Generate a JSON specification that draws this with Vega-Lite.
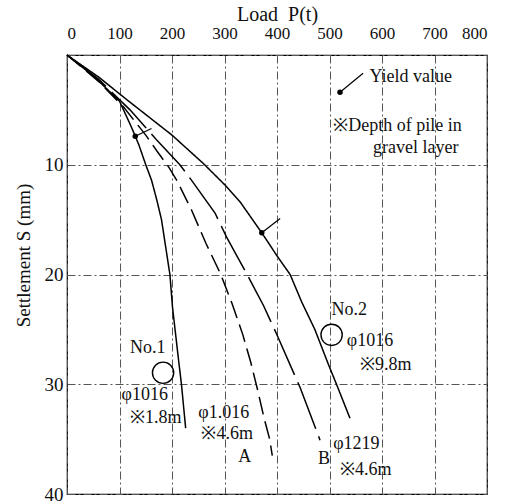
{
  "$schema": "https://vega.github.io/schema/vega-lite/v6.json",
  "width": 420,
  "height": 439,
  "autosize": {"type": "none"},
  "padding": {"left": 67, "top": 55, "right": 27, "bottom": 9},
  "background": "white",
  "config": {
    "view": {"stroke": "black", "strokeWidth": 1.2},
    "font": "Liberation Serif"
  },
  "datasets": {
    "curves": [
      {"curve": "No1", "P": 0, "S": 0}, {"curve": "No1", "P": 50, "S": 1.9}, {"curve": "No1", "P": 100, "S": 4.2}, {"curve": "No1", "P": 123, "S": 6.6}, {"curve": "No1", "P": 130, "S": 7.4}, {"curve": "No1", "P": 137, "S": 8.2}, {"curve": "No1", "P": 150, "S": 10}, {"curve": "No1", "P": 161, "S": 11.4}, {"curve": "No1", "P": 171, "S": 13.2}, {"curve": "No1", "P": 180, "S": 15}, {"curve": "No1", "P": 188, "S": 17.5}, {"curve": "No1", "P": 196, "S": 20}, {"curve": "No1", "P": 201, "S": 23}, {"curve": "No1", "P": 207, "S": 25.5}, {"curve": "No1", "P": 213, "S": 28}, {"curve": "No1", "P": 218, "S": 30}, {"curve": "No1", "P": 222, "S": 32}, {"curve": "No1", "P": 226, "S": 34},
      {"curve": "A", "P": 0, "S": 0}, {"curve": "A", "P": 60, "S": 2.4}, {"curve": "A", "P": 107, "S": 4.7}, {"curve": "A", "P": 150, "S": 7.3}, {"curve": "A", "P": 175, "S": 9}, {"curve": "A", "P": 195, "S": 10.3}, {"curve": "A", "P": 210, "S": 11.5}, {"curve": "A", "P": 237, "S": 14.1}, {"curve": "A", "P": 265, "S": 17.2}, {"curve": "A", "P": 293, "S": 20}, {"curve": "A", "P": 314, "S": 22.6}, {"curve": "A", "P": 335, "S": 25.5}, {"curve": "A", "P": 350, "S": 28}, {"curve": "A", "P": 363, "S": 30.5}, {"curve": "A", "P": 375, "S": 33}, {"curve": "A", "P": 386, "S": 35}, {"curve": "A", "P": 391, "S": 36.5},
      {"curve": "B", "P": 0, "S": 0}, {"curve": "B", "P": 60, "S": 2.2}, {"curve": "B", "P": 120, "S": 5}, {"curve": "B", "P": 170, "S": 7.7}, {"curve": "B", "P": 215, "S": 10}, {"curve": "B", "P": 237, "S": 11.4}, {"curve": "B", "P": 282, "S": 14.4}, {"curve": "B", "P": 304, "S": 16.6}, {"curve": "B", "P": 343, "S": 20}, {"curve": "B", "P": 374, "S": 22.8}, {"curve": "B", "P": 399, "S": 25.4}, {"curve": "B", "P": 444, "S": 30.3}, {"curve": "B", "P": 482, "S": 35.1},
      {"curve": "No2", "P": 0, "S": 0}, {"curve": "No2", "P": 60, "S": 2.0}, {"curve": "No2", "P": 120, "S": 4.3}, {"curve": "No2", "P": 200, "S": 7.3}, {"curve": "No2", "P": 260, "S": 9.9}, {"curve": "No2", "P": 300, "S": 11.8}, {"curve": "No2", "P": 330, "S": 13.4}, {"curve": "No2", "P": 371, "S": 16.2}, {"curve": "No2", "P": 400, "S": 18.3}, {"curve": "No2", "P": 425, "S": 20}, {"curve": "No2", "P": 447, "S": 22.5}, {"curve": "No2", "P": 472, "S": 25}, {"curve": "No2", "P": 498, "S": 28.2}, {"curve": "No2", "P": 515, "S": 30.2}, {"curve": "No2", "P": 539, "S": 33.1}
    ],
    "ticks": [
      {"id": "t1", "P": 130, "S": 7.4}, {"id": "t1", "P": 161, "S": 6.7},
      {"id": "t2", "P": 371, "S": 16.2}, {"id": "t2", "P": 406, "S": 14.9},
      {"id": "t3", "P": 520, "S": 3.4}, {"id": "t3", "P": 564, "S": 1.66}
    ],
    "dots": [
      {"P": 130, "S": 7.4}, {"P": 371, "S": 16.2}, {"P": 520, "S": 3.4}
    ],
    "circles": [
      {"P": 183, "S": 28.95}, {"P": 504, "S": 25.5}
    ],
    "labels": [
      {"text": "Yield value", "P": 576, "S": 2.0},
      {"text": "※Depth of pile in", "P": 507, "S": 6.5},
      {"text": "gravel layer", "P": 583, "S": 8.5},
      {"text": "No.1", "P": 120, "S": 26.7},
      {"text": "φ1016", "P": 104, "S": 31},
      {"text": "※1.8m", "P": 120, "S": 33.1},
      {"text": "φ1.016", "P": 250, "S": 32.6},
      {"text": "※4.6m", "P": 256, "S": 34.5},
      {"text": "A", "P": 326, "S": 36.6},
      {"text": "No.2", "P": 504, "S": 23.2},
      {"text": "φ1016", "P": 533, "S": 26.1},
      {"text": "※9.8m", "P": 558, "S": 28.25},
      {"text": "φ1219", "P": 507, "S": 35.4},
      {"text": "B", "P": 478, "S": 36.85},
      {"text": "※4.6m", "P": 520, "S": 37.8}
    ]
  },
  "encoding": {
    "x": {
      "field": "P", "type": "quantitative",
      "scale": {"domain": [0, 800], "nice": false, "zero": false},
      "axis": {
        "orient": "top", "values": [0, 100, 200, 300, 400, 500, 600, 700, 800],
        "grid": true, "gridDash": [8, 3, 2, 3], "gridColor": "#555", "gridWidth": 1, "gridOpacity": 1,
        "domain": false, "ticks": false,
        "labelFont": "Liberation Serif", "labelFontSize": 17, "labelColor": "#111", "labelPadding": 17, "labelBaseline": "alphabetic",
        "title": "Load\u00a0\u00a0P(t)", "titleFont": "Liberation Serif", "titleFontSize": 20, "titleFontWeight": "normal", "titleColor": "#111",
        "titleBaseline": "alphabetic", "titleY": -35
      }
    },
    "y": {
      "field": "S", "type": "quantitative",
      "scale": {"domain": [0, 40], "nice": false, "reverse": true},
      "axis": {
        "values": [0, 10, 20, 30, 40],
        "labelExpr": "datum.value == 0 ? '' : datum.label",
        "grid": true, "gridDash": [8, 3, 2, 3], "gridColor": "#555", "gridWidth": 1, "gridOpacity": 1,
        "domain": false, "ticks": false,
        "labelFont": "Liberation Serif", "labelFontSize": 19, "labelColor": "#111", "labelPadding": 4,
        "title": "Settlement S (mm)", "titleFont": "Liberation Serif", "titleFontSize": 19, "titleFontWeight": "normal", "titleColor": "#111", "titlePadding": 11,
        "titleY": 200
      }
    }
  },
  "layer": [
    {
      "data": {"name": "curves"},
      "mark": {"type": "line", "color": "black", "strokeWidth": 1.5},
      "encoding": {
        "detail": {"field": "curve", "type": "nominal"},
        "strokeDash": {
          "field": "curve", "type": "nominal",
          "scale": {"domain": ["No1", "A", "B", "No2"], "range": [[1, 0], [18, 7], [50, 8], [1, 0]]},
          "legend": null
        }
      }
    },
    {
      "data": {"name": "ticks"},
      "mark": {"type": "line", "color": "black", "strokeWidth": 1.2},
      "encoding": {"detail": {"field": "id", "type": "nominal"}}
    },
    {
      "data": {"name": "dots"},
      "mark": {"type": "point", "filled": true, "color": "black", "size": 30, "opacity": 1}
    },
    {
      "data": {"name": "circles"},
      "mark": {"type": "point", "filled": false, "color": "black", "size": 452, "strokeWidth": 1.4, "opacity": 1}
    },
    {
      "data": {"name": "labels"},
      "mark": {"type": "text", "align": "left", "baseline": "middle", "font": "Liberation Serif", "fontSize": 18, "color": "#111"},
      "encoding": {"text": {"field": "text", "type": "nominal"}}
    }
  ]
}
